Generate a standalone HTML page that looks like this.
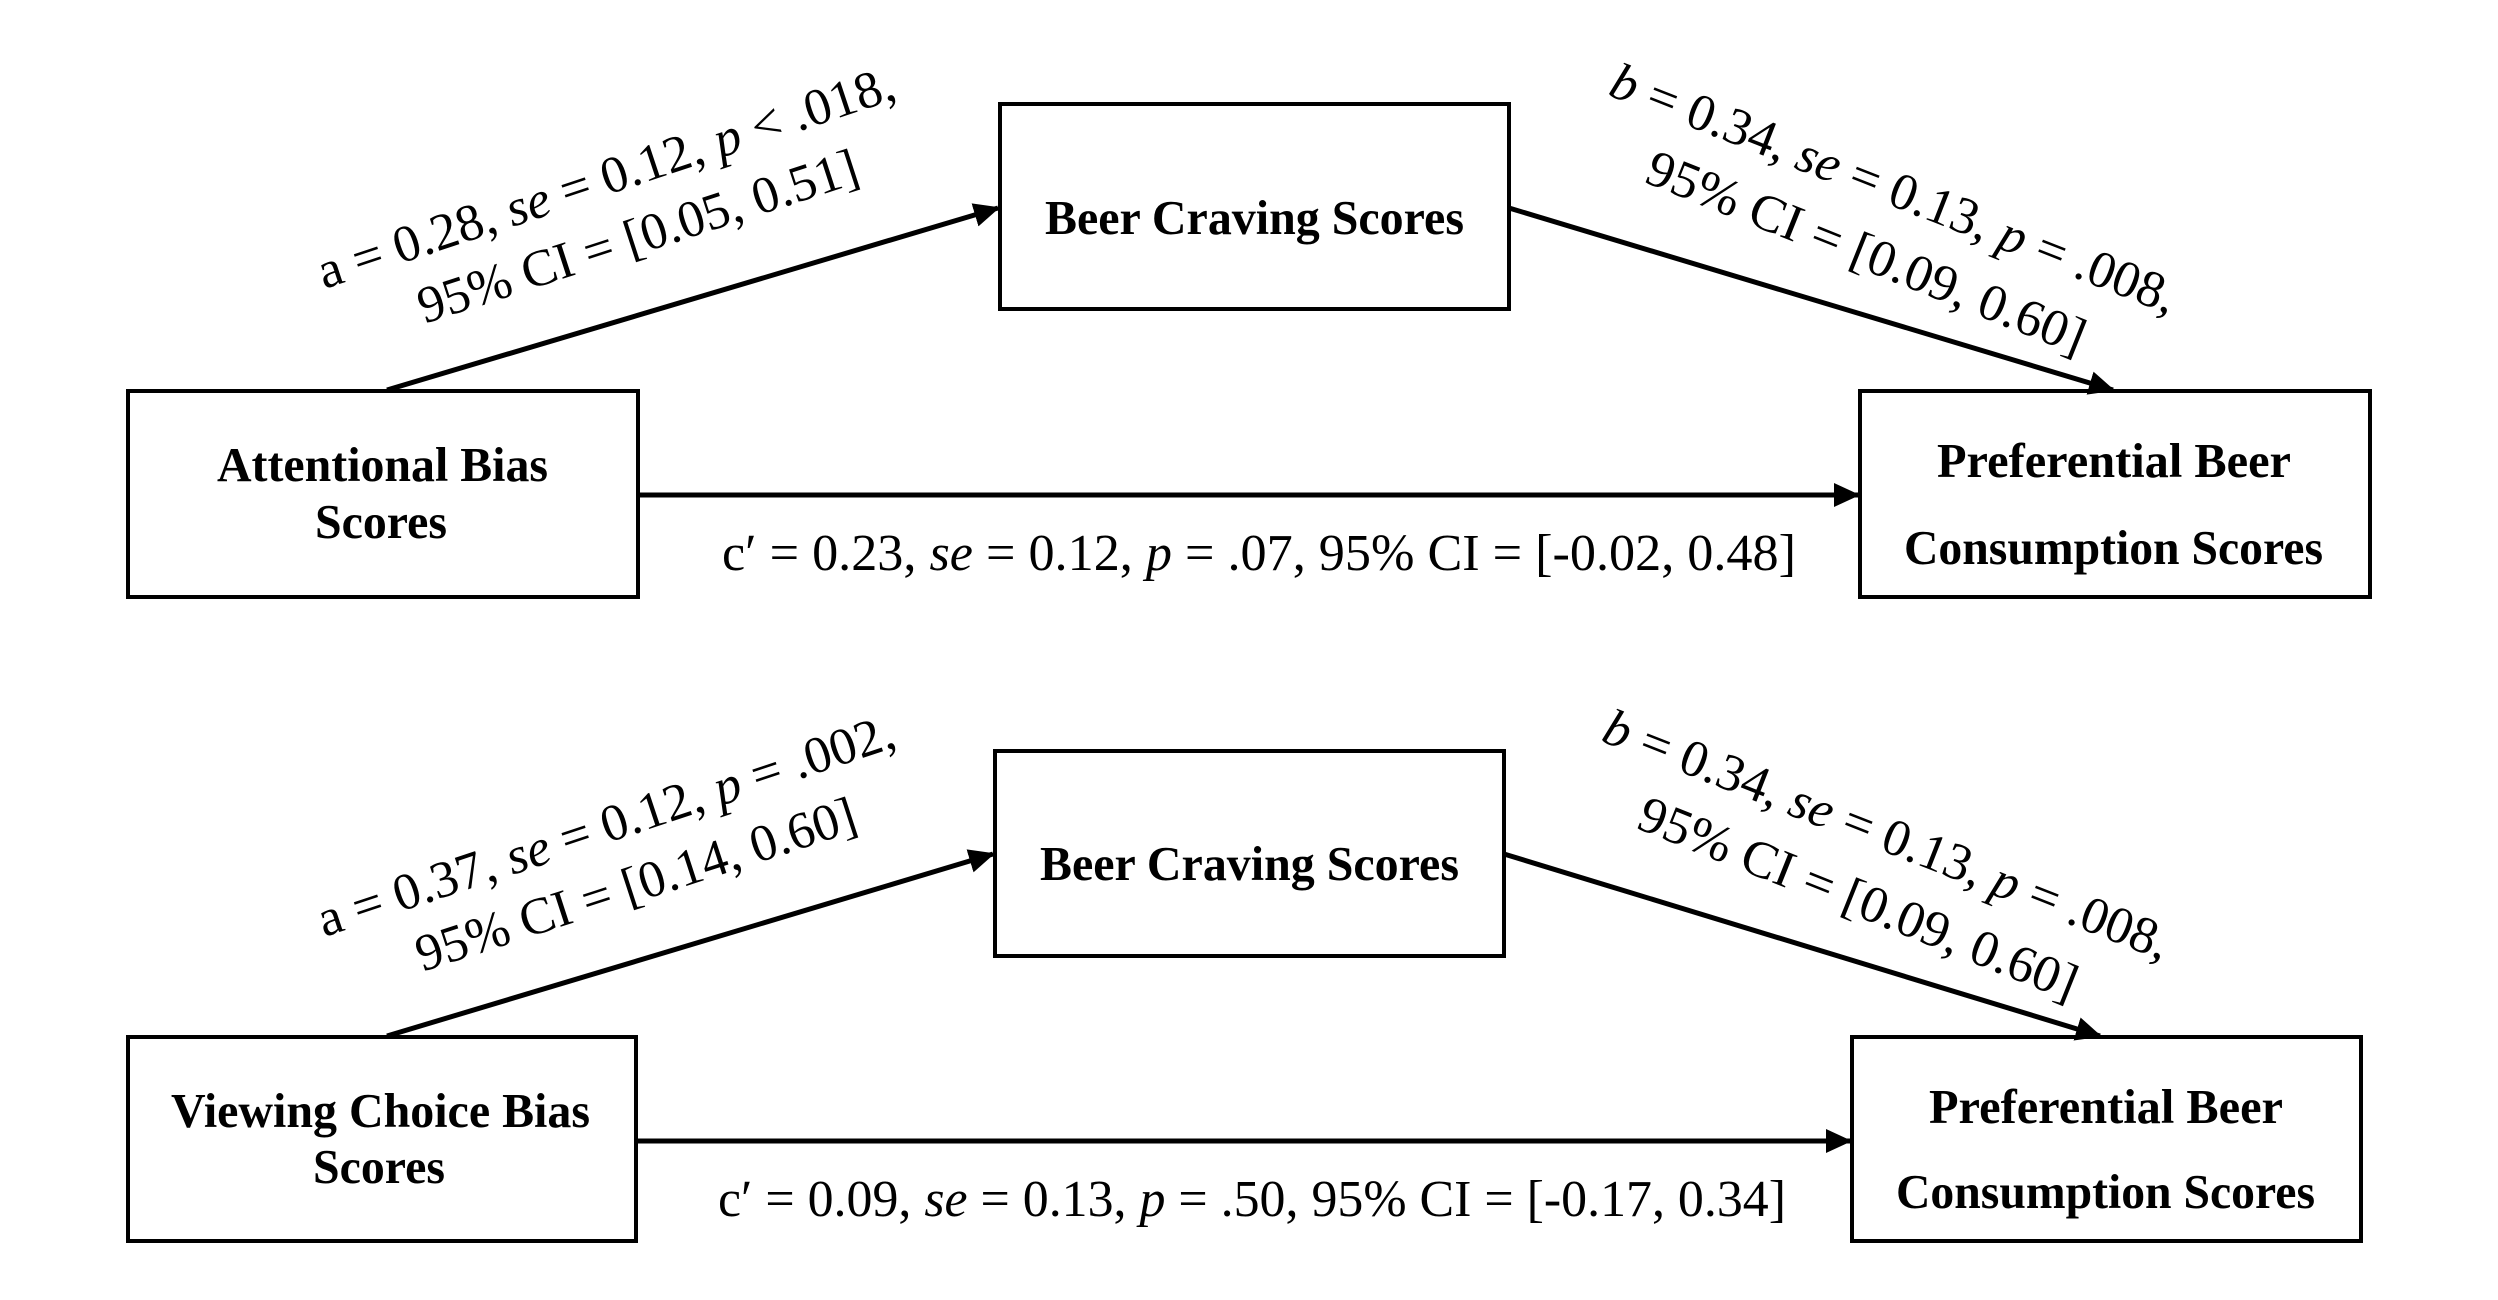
<!DOCTYPE html>
<html><head><meta charset="utf-8"><style>html,body{margin:0;padding:0;background:#fff}svg{display:block}</style></head>
<body>
<svg width="2498" height="1300" viewBox="0 0 2498 1300" xmlns="http://www.w3.org/2000/svg">
<defs>
<marker id="ah" markerUnits="userSpaceOnUse" markerWidth="26" markerHeight="24" refX="24" refY="12" orient="auto">
<path d="M0,0 L26,12 L0,24 Z" fill="#000"/>
</marker>
</defs>
<g fill="none" stroke="#000" stroke-width="4">
<rect x="128" y="391" width="510" height="206"/>
<rect x="1000" y="104" width="509" height="205"/>
<rect x="1860" y="391" width="510" height="206"/>
<rect x="128" y="1037" width="508" height="204"/>
<rect x="995" y="751" width="509" height="205"/>
<rect x="1852" y="1037" width="509" height="204"/>
</g>
<g stroke="#000" stroke-width="5" fill="none" marker-end="url(#ah)">
<line x1="638" y1="495" x2="1858" y2="495"/>
<line x1="387" y1="390" x2="998" y2="208"/>
<line x1="1509" y1="208" x2="2113" y2="390"/>
<line x1="636" y1="1141" x2="1850" y2="1141"/>
<line x1="387" y1="1036" x2="993" y2="854"/>
<line x1="1504" y1="854" x2="2100" y2="1036"/>
</g>
<g font-family="'Liberation Serif', serif" font-weight="bold" font-size="49" fill="#000">
<text x="217" y="481" textLength="331" lengthAdjust="spacingAndGlyphs">Attentional Bias</text>
<text x="315" y="538" textLength="132" lengthAdjust="spacingAndGlyphs">Scores</text>
<text x="1045" y="234" textLength="419" lengthAdjust="spacingAndGlyphs">Beer Craving Scores</text>
<text x="1937" y="477" textLength="354" lengthAdjust="spacingAndGlyphs">Preferential Beer</text>
<text x="1904" y="564" textLength="419" lengthAdjust="spacingAndGlyphs">Consumption Scores</text>
<text x="171" y="1127" textLength="419" lengthAdjust="spacingAndGlyphs">Viewing Choice Bias</text>
<text x="313" y="1183" textLength="132" lengthAdjust="spacingAndGlyphs">Scores</text>
<text x="1040" y="880" textLength="419" lengthAdjust="spacingAndGlyphs">Beer Craving Scores</text>
<text x="1929" y="1123" textLength="354" lengthAdjust="spacingAndGlyphs">Preferential Beer</text>
<text x="1896" y="1208" textLength="419" lengthAdjust="spacingAndGlyphs">Consumption Scores</text>
</g>
<g font-family="'Liberation Serif', serif" font-size="52" fill="#000">
<text x="722" y="570" textLength="1074" lengthAdjust="spacingAndGlyphs">c′ = 0.23, <tspan font-style="italic">se</tspan> = 0.12, <tspan font-style="italic">p</tspan> = .07, 95% CI = [-0.02, 0.48]</text>
<text x="718" y="1216" textLength="1068" lengthAdjust="spacingAndGlyphs">c′ = 0.09, <tspan font-style="italic">se</tspan> = 0.13, <tspan font-style="italic">p</tspan> = .50, 95% CI = [-0.17, 0.34]</text>

<text transform="translate(606,178) rotate(-18.4)" text-anchor="middle" dominant-baseline="central" textLength="605" lengthAdjust="spacingAndGlyphs">a = 0.28, <tspan font-style="italic">se</tspan> = 0.12, <tspan font-style="italic">p</tspan> &lt; .018,</text>
<text transform="translate(638,237) rotate(-18)" text-anchor="middle" dominant-baseline="central" textLength="460" lengthAdjust="spacingAndGlyphs">95% CI = [0.05, 0.51]</text>
<text transform="translate(1894,189) rotate(21.4)" text-anchor="middle" dominant-baseline="central" textLength="604" lengthAdjust="spacingAndGlyphs"><tspan font-style="italic">b</tspan> = 0.34, <tspan font-style="italic">se</tspan> = 0.13, <tspan font-style="italic">p</tspan> = .008,</text>
<text transform="translate(1866,253) rotate(21.8)" text-anchor="middle" dominant-baseline="central" textLength="468" lengthAdjust="spacingAndGlyphs">95% CI = [0.09, 0.60]</text>

<text transform="translate(606,826) rotate(-18.4)" text-anchor="middle" dominant-baseline="central" textLength="605" lengthAdjust="spacingAndGlyphs">a = 0.37, <tspan font-style="italic">se</tspan> = 0.12, <tspan font-style="italic">p</tspan> = .002,</text>
<text transform="translate(636,885) rotate(-18)" text-anchor="middle" dominant-baseline="central" textLength="460" lengthAdjust="spacingAndGlyphs">95% CI = [0.14, 0.60]</text>
<text transform="translate(1887,835) rotate(21.4)" text-anchor="middle" dominant-baseline="central" textLength="604" lengthAdjust="spacingAndGlyphs"><tspan font-style="italic">b</tspan> = 0.34, <tspan font-style="italic">se</tspan> = 0.13, <tspan font-style="italic">p</tspan> = .008,</text>
<text transform="translate(1858,899) rotate(21.8)" text-anchor="middle" dominant-baseline="central" textLength="468" lengthAdjust="spacingAndGlyphs">95% CI = [0.09, 0.60]</text>
</g>
</svg>
</body></html>
